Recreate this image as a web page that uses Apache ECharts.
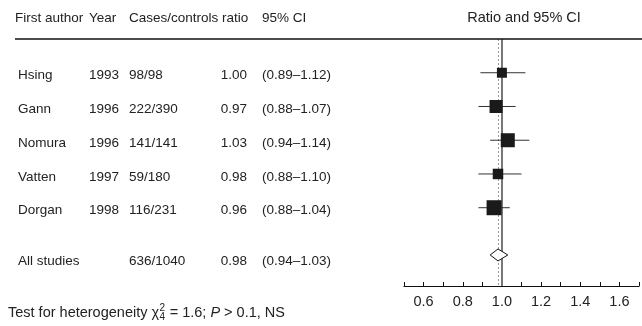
<!DOCTYPE html>
<html><head><meta charset="utf-8">
<script src="https://cdn.jsdelivr.net/npm/echarts@6/dist/echarts.min.js"></script>
<style>html,body{margin:0;padding:0;background:#fff}#c{width:642px;height:326px}</style>
</head><body><div id="c"></div>
<script>
// ---- data ----
var authors = ['Hsing', 'Gann', 'Nomura', 'Vatten', 'Dorgan'];
var years = ['1993', '1996', '1996', '1997', '1998'];
var casesControls = ['98/98', '222/390', '141/141', '59/180', '116/231'];
var ratios = [1.00, 0.97, 1.03, 0.98, 0.96];
var ciLow = [0.89, 0.88, 0.94, 0.88, 0.88];
var ciHigh = [1.12, 1.07, 1.14, 1.10, 1.04];
var studyWeight = [10, 13, 14, 10.5, 15];
var pooledLabel = 'All studies';
var pooledCases = '636/1040';
var pooledRatio = 0.98;
var pooledLow = 0.94;
var pooledHigh = 1.03;
var rowIndex = [1, 2, 3, 4, 5];
var pooledRow = 6.4;
var xTicks = [0.6, 0.8, 1.0, 1.2, 1.4, 1.6];
var headers = ['First author', 'Year', 'Cases/controls', 'ratio', '95% CI', 'Ratio and 95% CI'];

var FONT = '"Liberation Sans", Arial, sans-serif';
var FS = 13.5;
var TXT = '#222';

var chart = echarts.init(document.getElementById('c'));

var studyData = ratios.map(function (r, i) { return [r, rowIndex[i], ciLow[i], ciHigh[i], studyWeight[i]]; });

var option = {
  animation: false,
  grid: { left: 404, top: 39, width: 240, bottom: 40 },
  xAxis: {
    type: 'value', min: 0.5, max: 1.7, interval: 0.1, position: 'bottom',
    axisLine: { show: true, onZero: false, lineStyle: { color: '#111', width: 1.2 } },
    axisTick: { show: true, inside: true, length: 4, lineStyle: { color: '#111' } },
    splitLine: { show: false },
    axisLabel: {
      color: TXT, fontFamily: FONT, fontSize: 14.5, margin: 8,
      formatter: function (v) {
        for (var i = 0; i < xTicks.length; i++) if (Math.abs(v - xTicks[i]) < 1e-6) return v.toFixed(1);
        return '';
      }
    }
  },
  yAxis: { type: 'value', inverse: true, min: 0, max: 7.32, show: false },
  series: [
    {
      type: 'custom',
      data: [],
      z: 1,
      markLine: {
        silent: true, symbol: 'none', label: { show: false }, z: 1,
        data: [
          { xAxis: 1.0, lineStyle: { color: '#777', width: 2, type: 'solid' } },
          { xAxis: pooledRatio, lineStyle: { color: '#999', width: 1, type: [2, 2] } }
        ]
      },
      renderItem: function () { return null; }
    },
    {
      type: 'custom',
      data: studyData,
      z: 6,
      renderItem: function (params, api) {
        var c = api.coord([api.value(0), api.value(1)]);
        var l = api.coord([api.value(2), api.value(1)]);
        var h = api.coord([api.value(3), api.value(1)]);
        var s = api.value(4);
        return {
          type: 'group',
          children: [
            { type: 'line', shape: { x1: l[0], y1: l[1], x2: h[0], y2: h[1] }, style: { stroke: '#333', lineWidth: 1 } },
            { type: 'rect', shape: { x: c[0] - s / 2, y: c[1] - s / 2, width: s, height: s }, style: { fill: '#1a1a1a' } }
          ]
        };
      }
    },
    {
      type: 'custom',
      data: [[pooledRatio, pooledRow, pooledLow, pooledHigh]],
      z: 7,
      renderItem: function (params, api) {
        var c = api.coord([api.value(0), api.value(1)]);
        var l = api.coord([api.value(2), api.value(1)]);
        var h = api.coord([api.value(3), api.value(1)]);
        var hh = 6;
        return {
          type: 'polygon',
          shape: { points: [[l[0], c[1]], [c[0], c[1] - hh], [h[0], c[1]], [c[0], c[1] + hh]] },
          style: { fill: '#fff', stroke: '#111', lineWidth: 1 }
        };
      }
    }
  ]
};
chart.setOption(option);

function ty(row) { return chart.convertToPixel({ gridIndex: 0 }, [1, row])[1] + 3; }
function txt(x, y, s, align, extra) {
  var st = { text: s, fill: TXT, font: FS + 'px ' + FONT, textAlign: align || 'left', textVerticalAlign: 'middle' };
  if (extra) for (var k in extra) st[k] = extra[k];
  return { type: 'text', x: x, y: y, style: st, z: 10 };
}
var g = [];
// header
var hy = 18;
g.push(txt(15, hy, headers[0]));
g.push(txt(89, hy, headers[1]));
g.push(txt(129, hy, headers[2]));
g.push(txt(222, hy, headers[3]));
g.push(txt(262, hy, headers[4]));
g.push(txt(524, hy, headers[5], 'center', { font: '14.5px ' + FONT }));
g.push({ type: 'line', shape: { x1: 15, y1: 39, x2: 642, y2: 39 }, style: { stroke: '#111', lineWidth: 1.5 }, z: 10 });
// rows
for (var i = 0; i < authors.length; i++) {
  var y = ty(rowIndex[i]);
  g.push(txt(18, y, authors[i]));
  g.push(txt(89, y, years[i]));
  g.push(txt(129, y, casesControls[i]));
  g.push(txt(247, y, ratios[i].toFixed(2), 'right'));
  g.push(txt(262, y, '(' + ciLow[i].toFixed(2) + '\u2013' + ciHigh[i].toFixed(2) + ')'));
}
var py = ty(pooledRow) + 3;
g.push(txt(18, py, pooledLabel));
g.push(txt(129, py, pooledCases));
g.push(txt(247, py, pooledRatio.toFixed(2), 'right'));
g.push(txt(262, py, '(' + pooledLow.toFixed(2) + '\u2013' + pooledHigh.toFixed(2) + ')'));

// footer with chi-square notation
var ctx = document.createElement('canvas').getContext('2d');
function w(s, f) { ctx.font = f; return ctx.measureText(s).width; }
var FF = 14.5;
var fy = 313, fx = 8;
var f1 = FF + 'px ' + FONT, fSmall = '10px ' + FONT, fIt = 'italic ' + FF + 'px ' + FONT;
var p1 = 'Test for heterogeneity \u03c7';
g.push(txt(fx, fy, p1, 'left', { font: f1 })); fx += w(p1, f1);
g.push(txt(fx + 0.5, fy - 5, '2', 'left', { font: fSmall }));
g.push(txt(fx + 0.5, fy + 4, '4', 'left', { font: fSmall }));
fx += w('4', fSmall) + 1;
var p2 = ' = 1.6; ';
g.push(txt(fx, fy, p2, 'left', { font: f1 })); fx += w(p2, f1);
g.push(txt(fx, fy, 'P', 'left', { font: fIt })); fx += w('P', fIt);
g.push(txt(fx, fy, ' > 0.1, NS', 'left', { font: f1 }));
chart.setOption({ graphic: { elements: g } });
</script></body></html>
